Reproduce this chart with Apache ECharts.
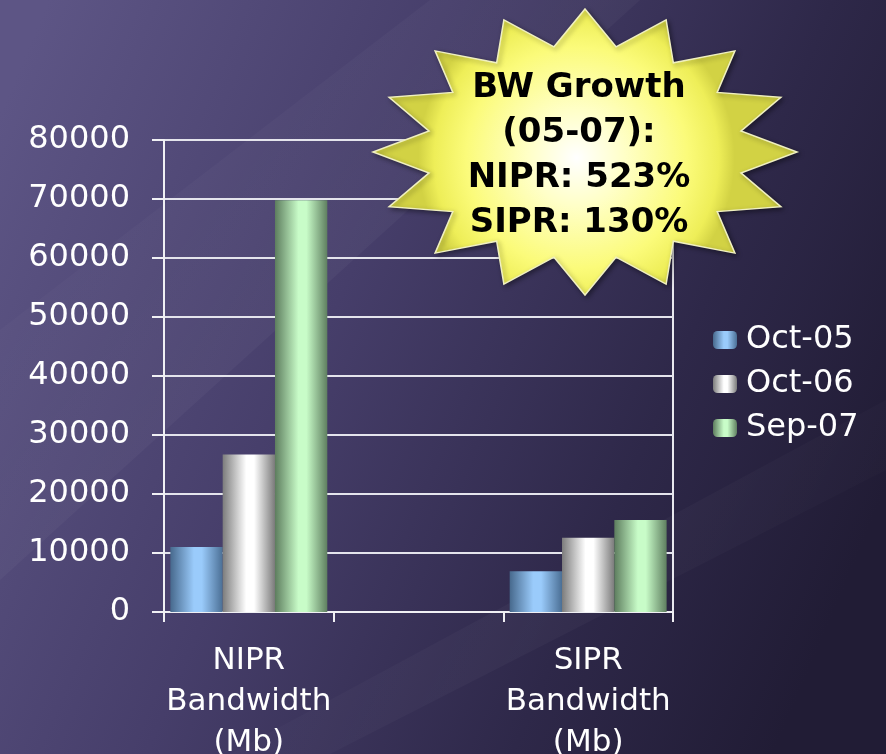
<!DOCTYPE html>
<html>
<head>
<meta charset="utf-8">
<title>BW Growth</title>
<script src="https://cdn.jsdelivr.net/npm/echarts@6/dist/echarts.min.js"></script>
<style>
html, body { margin: 0; padding: 0; background: #2a2444; }
#main { width: 886px; height: 754px; }
</style>
</head>
<body>
<div id="main"></div>
<script>
var categories = ['NIPR\nBandwidth\n(Mb)', '', 'SIPR\nBandwidth\n(Mb)'];
var seriesNames = ['Oct-05', 'Oct-06', 'Sep-07'];
var oct05 = [11000, null, 6900];
var oct06 = [26700, null, 12600];
var sep07 = [69800, null, 15600];
var yTicks = [0, 10000, 20000, 30000, 40000, 50000, 60000, 70000, 80000];
var calloutLines = ['BW Growth', '(05-07):', 'NIPR: 523%', 'SIPR: 130%'];

// cylinder-like shading for each bar colour
function shade(dark, light, dark2){
	return {
		type: 'linear', x: 0, y: 0, x2: 1, y2: 0,
		colorStops: [
			{offset: 0, color: dark},
			{offset: 0.45, color: light},
			{offset: 0.6, color: light},
			{offset: 1, color: dark2}
		]
	};
}

// starburst outline
function starPoints(cx, cy, rx, ry, ratio, n){
	var pts = [];
	for (var i = 0; i < n * 2; i++) {
		var a = -Math.PI / 2 + i * Math.PI / n;
		var k = (i % 2 === 0) ? 1 : ratio;
		pts.push([cx + rx * k * Math.cos(a), cy + ry * k * Math.sin(a)]);
	}
	return pts;
}

var chart = echarts.init(document.getElementById('main'));
var font = 'DejaVu Sans';

var option = {
	backgroundColor: {
		type: 'linear', x: 0, y: 0.15, x2: 1, y2: 0.65,
		colorStops: [
			{offset: 0, color: '#5d5585'},
			{offset: 0.4, color: '#463e6a'},
			{offset: 0.75, color: '#2e2849'},
			{offset: 1, color: '#211c35'}
		]
	},
	animation: false,
	grid: {
		left: 164, right: 213, top: 140, bottom: 142,
		outerBoundsMode: 'none',
		show: true, borderColor: '#e8e8ee', borderWidth: 2
	},
	legend: {
		orient: 'vertical',
		left: 708, top: 319,
		itemWidth: 24, itemHeight: 18, itemGap: 12,
		data: seriesNames,
		textStyle: {color: '#ffffff', fontSize: 32, fontFamily: font, padding: [0, 0, 0, 4]}
	},
	xAxis: {
		type: 'category',
		data: categories,
		axisLine: {lineStyle: {color: '#f0f0f4', width: 2}},
		axisTick: {show: true, length: 10, lineStyle: {color: '#f0f0f4', width: 2}},
		axisLabel: {color: '#ffffff', fontSize: 31, fontFamily: font, lineHeight: 41, margin: 28, interval: 0}
	},
	yAxis: {
		type: 'value',
		min: yTicks[0], max: yTicks[yTicks.length - 1], interval: 10000,
		axisLine: {show: true, lineStyle: {color: '#f0f0f4', width: 2}},
		axisTick: {show: true, length: 12, lineStyle: {color: '#f0f0f4', width: 2}},
		axisLabel: {color: '#ffffff', fontSize: 32, fontFamily: font, margin: 34,
			formatter: function(v){ return String(v); }},
		splitLine: {lineStyle: {color: '#e4e4ec', width: 2}}
	},
	series: [
		{name: seriesNames[0], type: 'bar', data: oct05, barGap: 0, barCategoryGap: '7.5%',
			itemStyle: {color: shade('#47698d', '#9acbfb', '#4b6f95')}},
		{name: seriesNames[1], type: 'bar', data: oct06, barGap: 0, barCategoryGap: '7.5%',
			itemStyle: {color: shade('#7c7c7c', '#ffffff', '#7a7a7a')}},
		{name: seriesNames[2], type: 'bar', data: sep07, barGap: 0, barCategoryGap: '7.5%',
			itemStyle: {color: shade('#5d7d5e', '#c8fcc8', '#5f7f60')}}
	],
	graphic: [
		// soft light streaks in the background
		{
			type: 'polygon', z: -5, silent: true,
			shape: {points: [[430, 0], [640, 0], [0, 580], [0, 330]]},
			style: {fill: {
				type: 'linear', x: 0, y: 0, x2: 1, y2: 1,
				colorStops: [
					{offset: 0, color: 'rgba(255,255,255,0.0)'},
					{offset: 0.5, color: 'rgba(255,255,255,0.035)'},
					{offset: 1, color: 'rgba(255,255,255,0.0)'}
				]
			}}
		},
		{
			type: 'polygon', z: -5, silent: true,
			shape: {points: [[886, 400], [886, 470], [330, 754], [230, 754]]},
			style: {fill: {
				type: 'linear', x: 0, y: 0, x2: 1, y2: 1,
				colorStops: [
					{offset: 0, color: 'rgba(255,255,255,0.0)'},
					{offset: 0.5, color: 'rgba(255,255,255,0.03)'},
					{offset: 1, color: 'rgba(255,255,255,0.0)'}
				]
			}}
		},
		{
			type: 'polygon', z: 100, silent: true,
			shape: {points: starPoints(585, 152, 212, 143, 0.75, 16)},
			style: {
				fill: {
					type: 'radial', x: 0.48, y: 0.52, r: 0.55,
					colorStops: [
						{offset: 0, color: '#ffffff'},
						{offset: 0.3, color: '#ffffc8'},
						{offset: 0.7, color: '#fbfb7a'},
						{offset: 0.9, color: '#eeee58'},
						{offset: 1, color: '#d2d244'}
					]
				},
				stroke: '#f0f0c0', lineWidth: 1.5,
				shadowBlur: 5, shadowColor: 'rgba(0,0,0,0.4)', shadowOffsetX: 2, shadowOffsetY: 2
			}
		},
		{
			type: 'text', z: 101, silent: true,
			x: 579, y: 156,
			style: {
				text: calloutLines.join('\n'),
				fill: '#000000',
				font: 'bold 34px "DejaVu Sans"',
				lineHeight: 45,
				align: 'center', verticalAlign: 'middle'
			}
		}
	]
};

chart.setOption(option);
</script>
</body>
</html>
